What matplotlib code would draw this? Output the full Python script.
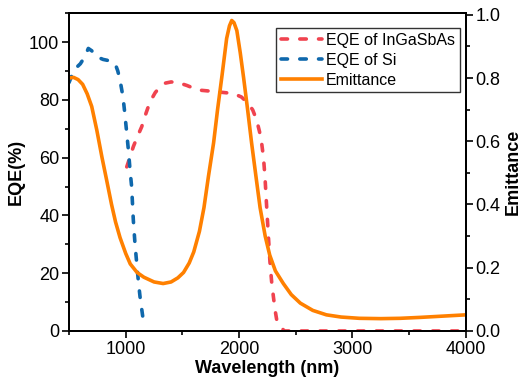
import numpy as np
import matplotlib.pyplot as plt
from matplotlib.ticker import MultipleLocator

plt.rcParams["font.family"] = ["Liberation Sans", "DejaVu Sans"]

# wavelength (nm) / EQE (%) of the Si cell
wl_si = [500, 530, 560, 600, 640, 670, 700, 740, 800, 860, 906, 930, 950,
         976, 990, 1009, 1025, 1038, 1052, 1067, 1082, 1097, 1112, 1126,
         1150, 1170]
eqe_si = [86, 89, 91, 92.5, 95, 97.8, 97, 95, 94, 93.5, 92.6, 90, 86.8,
          81, 76, 68.5, 62, 55.7, 50, 38.4, 30, 23.4, 17, 11.9, 5, 2]

# wavelength (nm) / EQE (%) of the InGaSbAs cell
wl_ingasbas = [1009, 1040, 1067, 1100, 1141, 1180, 1214, 1260, 1302, 1350,
               1400, 1460, 1538, 1640, 1750, 1850, 1949, 2020, 2081, 2120,
               2155, 2180, 2199, 2215, 2228, 2243, 2258, 2272, 2287, 2302,
               2317, 2331, 2361, 2400, 4000]
eqe_ingasbas = [56.8, 60.5, 63.8, 67, 70.7, 75.5, 79.3, 82.5, 84.5, 85.8,
                86.2, 86, 85, 83.4, 83, 82.6, 82.2, 81, 78.8, 76.5,
                73, 69, 65, 60, 53.4, 43, 33, 24, 17, 12,
                7.3, 4, 1.5, 0, 0]

# wavelength (nm) / spectral emittance of the emitter
wl_em = [500, 540, 580, 620, 660, 700, 745, 790, 830, 875, 910, 950, 1000,
         1040, 1100, 1160, 1250, 1330, 1400, 1460, 1510, 1560, 1600, 1650,
         1690, 1730, 1775, 1810, 1850, 1890, 1915, 1935, 1955, 1980, 2010,
         2040, 2075, 2110, 2150, 2185, 2230, 2270, 2320, 2390, 2460, 2540,
         2650, 2770, 2900, 3060, 3250, 3420, 3600, 3800, 4000]
emittance = [0.80, 0.802, 0.795, 0.78, 0.75, 0.71, 0.635, 0.55, 0.48, 0.40,
             0.345, 0.295, 0.245, 0.212, 0.185, 0.170, 0.155, 0.150, 0.155,
             0.168, 0.185, 0.215, 0.25, 0.315, 0.39, 0.49, 0.595, 0.70, 0.81,
             0.925, 0.965, 0.982, 0.975, 0.95, 0.88, 0.80, 0.70, 0.595, 0.485,
             0.39, 0.30, 0.24, 0.19, 0.15, 0.115, 0.088, 0.065, 0.051, 0.044,
             0.040, 0.039, 0.040, 0.043, 0.047, 0.051]

RED = "#F0434F"
BLUE = "#0F68AC"
ORANGE = "#FF8000"
FS = 13

fig = plt.figure(figsize=(5.27, 3.88), dpi=100)
ax = fig.add_axes([0.131, 0.147, 0.753, 0.819])
ax2 = ax.twinx()

dash = (0, (1.8, 3.4))
l1, = ax.plot(wl_ingasbas, eqe_ingasbas, color=RED, lw=2.6, linestyle=dash,
              dash_capstyle="round", label="EQE of InGaSbAs")
l2, = ax.plot(wl_si, eqe_si, color=BLUE, lw=2.6, linestyle=dash,
              dash_capstyle="round", label="EQE of Si")
l3, = ax2.plot(wl_em, emittance, color=ORANGE, lw=2.6, label="Emittance")

ax.set_xlim(500, 4000)
ax.set_ylim(0, 110)
ax2.set_ylim(0, 1.005)

ax.xaxis.set_major_locator(MultipleLocator(1000))
ax.xaxis.set_minor_locator(MultipleLocator(500))
ax.yaxis.set_major_locator(MultipleLocator(20))
ax.yaxis.set_minor_locator(MultipleLocator(10))
ax2.yaxis.set_major_locator(MultipleLocator(0.2))
ax2.yaxis.set_minor_locator(MultipleLocator(0.1))
ax2.set_yticks(np.arange(0, 1.01, 0.2))
ax2.set_yticklabels([f"{v:.1f}" for v in np.arange(0, 1.01, 0.2)])

for a in (ax, ax2):
    a.tick_params(which="major", direction="out", length=5, width=1.2,
                  labelsize=FS, pad=2)
    a.tick_params(which="minor", direction="out", length=3, width=1.2)
    for s in a.spines.values():
        s.set_linewidth(1.4)
ax.spines["left"].set_color("#444444")

ax.set_xlabel("Wavelength (nm)", fontsize=FS, fontweight="bold", labelpad=2)
ax.set_ylabel("EQE(%)", fontsize=FS, fontweight="bold", labelpad=3)
ax2.set_ylabel("Emittance", fontsize=FS, fontweight="bold", labelpad=3)

leg = ax2.legend(handles=[l1, l2, l3], loc="upper right",
                 bbox_to_anchor=(0.985, 0.953), fontsize=11.5,
                 fancybox=False, edgecolor="#333333", framealpha=1,
                 borderaxespad=0, handlelength=2.6, handletextpad=0.25,
                 labelspacing=0.3, borderpad=0.3)
leg.get_frame().set_linewidth(1.0)

fig.savefig("out.png", dpi=100)
